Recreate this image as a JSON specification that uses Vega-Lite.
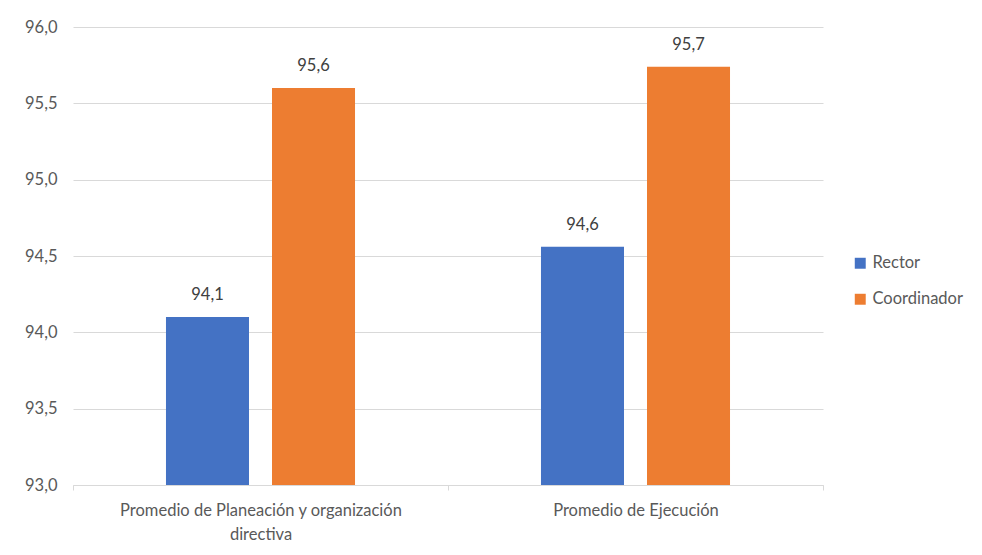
{
  "$schema": "https://vega.github.io/schema/vega-lite/v6.json",
  "autosize": {"type": "none"},
  "width": 750,
  "height": 458,
  "padding": {"left": 73, "top": 27, "right": 159, "bottom": 70},
  "background": "white",
  "config": {
    "font": "Lato",
    "view": {"stroke": null},
    "locale": {"number": {"decimal": ",", "thousands": ".", "grouping": [3], "currency": ["", " €"]}}
  },
  "data": {
    "values": [
      {"categoria": "Promedio de Planeación y organización directiva", "cargo": "Rector", "valor": 94.1},
      {"categoria": "Promedio de Planeación y organización directiva", "cargo": "Coordinador", "valor": 95.6},
      {"categoria": "Promedio de Ejecución", "cargo": "Rector", "valor": 94.56},
      {"categoria": "Promedio de Ejecución", "cargo": "Coordinador", "valor": 95.74}
    ]
  },
  "encoding": {
    "x": {
      "field": "categoria", "type": "nominal", "sort": null, "title": null,
      "scale": {"paddingInner": 0, "paddingOuter": 0},
      "axis": {
        "labelAngle": 0, "labelFontSize": 16.5, "labelColor": "#595959", "labelPadding": 12,
        "labelExpr": "datum.value == 'Promedio de Planeación y organización directiva' ? ['Promedio de Planeación y organización', 'directiva'] : datum.value",
        "labelLineHeight": 24, "labelLimit": 400,
        "domainColor": "#d9d9d9", "tickColor": "#d9d9d9", "tickBand": "extent", "tickSize": 5, "grid": false
      }
    },
    "xOffset": {
      "field": "cargo", "type": "nominal", "sort": ["Rector", "Coordinador"],
      "scale": {"paddingInner": 0.217, "paddingOuter": 0.877}
    },
    "y": {
      "field": "valor", "type": "quantitative", "title": null,
      "scale": {"domain": [93, 96], "zero": false, "nice": false},
      "axis": {
        "values": [93, 93.5, 94, 94.5, 95, 95.5, 96], "format": ".1f",
        "labelFontSize": 16.5, "labelColor": "#595959", "labelPadding": 16,
        "domain": false, "ticks": false, "gridColor": "#d9d9d9", "gridWidth": 1
      }
    }
  },
  "layer": [
    {
      "mark": {"type": "bar"},
      "encoding": {
        "y2": {"datum": 93},
        "color": {
          "field": "cargo", "type": "nominal", "sort": ["Rector", "Coordinador"],
          "scale": {"domain": ["Rector", "Coordinador"], "range": ["#4472C4", "#ED7D31"]},
          "legend": {
            "title": null, "orient": "none", "legendX": 779, "legendY": 228,
            "symbolType": "square", "symbolSize": 120, "symbolStrokeWidth": 0,
            "labelFontSize": 16.5, "labelColor": "#595959", "rowPadding": 19, "labelOffset": 4
          }
        }
      }
    },
    {
      "mark": {"type": "text", "dy": -14, "fontSize": 16.5, "color": "#404040", "baseline": "bottom"},
      "encoding": {
        "text": {"field": "valor", "type": "quantitative", "format": ".1f"}
      }
    }
  ]
}
